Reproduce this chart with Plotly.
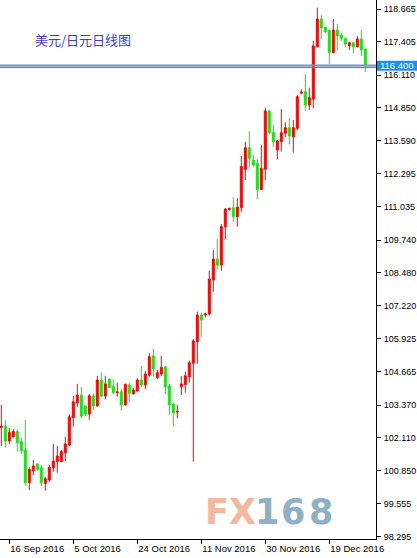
import plotly.graph_objects as go

# ---------------- data (USD/JPY daily) ----------------
opens = [102.51, 102.56, 101.99, 102.15, 102.35, 101.96, 101.64, 100.38, 100.84, 101.10,
         100.95, 100.35, 100.48, 100.95, 101.19, 101.19, 101.53, 101.83, 102.89, 103.46,
         103.76, 103.34, 103.03, 103.72, 103.34, 104.34, 103.72, 104.38, 104.08, 103.85,
         103.89, 103.38, 104.15, 103.80, 103.92, 104.34, 104.15, 104.53, 105.27, 104.43,
         104.57, 104.85, 104.11, 103.41, 103.10, 104.08, 104.17, 104.47, 104.99, 105.82,
         106.85, 106.85, 106.89, 108.20, 109.01, 108.78, 110.26, 110.92, 110.99, 110.65,
         110.99, 112.48, 113.31, 112.83, 112.71, 111.70, 112.48, 114.73, 113.90, 113.22,
         113.54, 113.87, 114.08, 113.73, 114.06, 115.42, 115.47, 114.96, 115.19, 117.21,
         118.28, 117.96, 117.83, 116.99, 117.85, 117.66, 117.53, 117.25, 117.36, 117.21,
         117.51, 117.12]
highs = [103.38, 102.80, 102.48, 102.44, 102.44, 102.11, 102.80, 100.97, 101.25, 101.12,
         101.06, 100.61, 101.06, 101.87, 101.79, 101.64, 102.15, 103.02, 103.72, 104.19,
         104.06, 103.35, 103.80, 103.83, 104.50, 104.64, 104.50, 104.39, 104.37, 104.24,
         103.98, 104.21, 104.24, 104.04, 104.41, 104.88, 104.70, 105.37, 105.54, 104.73,
         105.27, 104.87, 104.19, 103.46, 103.38, 104.50, 104.66, 105.09, 105.92, 106.98,
         106.95, 106.94, 108.56, 109.36, 109.78, 110.36, 110.97, 111.00, 111.39, 111.36,
         112.99, 113.54, 113.93, 113.03, 112.86, 113.41, 114.85, 114.75, 114.19, 113.61,
         114.80, 114.29, 114.44, 114.38, 115.34, 115.56, 116.16, 115.63, 117.43, 118.72,
         118.43, 117.97, 117.88, 118.28, 118.09, 117.75, 117.57, 117.40, 117.37, 117.62,
         117.85, 117.13]
lows = [101.79, 101.73, 101.87, 102.13, 101.57, 101.48, 100.25, 100.09, 100.67, 100.84,
        100.25, 100.07, 100.41, 100.80, 100.76, 101.17, 101.21, 101.80, 102.54, 103.31,
        102.86, 102.95, 102.80, 103.18, 103.31, 103.67, 103.61, 104.03, 103.80, 103.70,
        103.16, 103.36, 103.50, 103.79, 103.89, 104.06, 103.99, 104.47, 104.47, 104.38,
        104.50, 103.80, 102.99, 102.54, 102.86, 103.76, 103.85, 104.24, 101.19, 104.96,
        106.01, 106.76, 106.84, 107.75, 108.61, 108.56, 109.78, 110.88, 110.45, 110.26,
        110.84, 112.06, 112.54, 112.58, 111.32, 111.68, 112.06, 113.83, 113.35, 112.87,
        113.16, 113.71, 113.44, 113.12, 113.99, 115.37, 114.73, 114.77, 114.83, 117.19,
        117.50, 117.73, 116.54, 116.95, 117.08, 117.44, 117.19, 117.08, 116.95, 117.19,
        116.85, 116.24]
closes = [102.55, 101.99, 102.31, 102.35, 101.92, 101.61, 100.38, 100.89, 101.02, 100.89,
          100.38, 100.53, 100.97, 101.21, 101.41, 101.57, 101.87, 102.92, 103.50, 103.76,
          102.95, 103.03, 103.73, 103.34, 104.34, 103.72, 104.19, 104.04, 103.85, 103.88,
          103.38, 104.17, 103.83, 103.95, 104.34, 104.15, 104.57, 105.24, 104.77, 104.62,
          104.83, 104.08, 103.38, 103.08, 103.13, 104.19, 104.50, 105.01, 105.85, 106.85,
          106.66, 106.89, 108.24, 109.01, 108.78, 110.26, 110.94, 110.96, 110.65, 111.01,
          112.58, 113.31, 112.90, 112.64, 111.70, 112.51, 114.73, 113.89, 113.54, 113.57,
          113.89, 114.08, 113.76, 114.08, 115.28, 115.45, 114.96, 115.24, 117.24, 118.28,
          117.94, 117.79, 116.99, 117.85, 117.62, 117.53, 117.31, 117.36, 117.21, 117.51,
          117.08, 116.49]

x_tick_idx = [2, 18, 34, 50, 66, 82]
x_tick_labels = ["16 Sep 2016", "5 Oct 2016", "24 Oct 2016",
                 "11 Nov 2016", "30 Nov 2016", "19 Dec 2016"]
y_tick_vals = [118.665, 117.405, 116.110, 114.850, 113.590, 112.295, 111.035,
               109.740, 108.480, 107.220, 105.925, 104.665, 103.370, 102.110,
               100.850, 99.555, 98.295]

ask_line = 116.49
bid_line = 116.42
last_price_label = "116.400"
title_text = "美元/日元日线图"
watermark_parts = ["FX", "1", "6", "8"]

RED = "#ff0000"
GREEN = "#14e414"

# ---------------- figure ----------------
idx = list(range(len(opens)))
fig = go.Figure(go.Candlestick(
    x=idx, open=opens, high=highs, low=lows, close=closes,
    increasing=dict(line=dict(color=RED, width=1), fillcolor=RED),
    decreasing=dict(line=dict(color=GREEN, width=1), fillcolor=GREEN),
    whiskerwidth=0, showlegend=False, hoverinfo="skip",
))

W, H = 417, 558
ML, MR, MT, MB = 0, 41, 0, 19
PW, PH = W - ML - MR, H - MT - MB

axis_font = dict(family="Liberation Sans, Arial, sans-serif", size=9, color="#000000")

fig.update_layout(
    width=W, height=H,
    margin=dict(l=ML, r=MR, t=MT, b=MB, pad=0),
    paper_bgcolor="white", plot_bgcolor="white",
    showlegend=False,
    xaxis=dict(
        range=[-0.325, 93.675], rangeslider=dict(visible=False),
        showgrid=False, zeroline=False, showline=True, linecolor="#000000", linewidth=1,
        ticks="outside", ticklen=4, tickcolor="#000000", tickwidth=1,
        tickvals=x_tick_idx, ticktext=x_tick_labels,
        ticklabelposition="outside right", tickfont=dict(axis_font, size=9.5),
        ticklabelstandoff=1,
    ),
    yaxis=dict(
        side="right", range=[98.2015, 119.0125],
        showgrid=False, zeroline=False, showline=True, linecolor="#000000", linewidth=1,
        ticks="outside", ticklen=4, tickcolor="#000000", tickwidth=1,
        tickvals=y_tick_vals, ticktext=[f"{v:.3f}" for v in y_tick_vals],
        tickfont=axis_font, ticklabelstandoff=1,
    ),
)

# price lines
fig.add_shape(type="line", xref="paper", yref="y", x0=0, x1=1, y0=ask_line, y1=ask_line,
              line=dict(color="#8593a6", width=1.5), layer="above")
fig.add_shape(type="line", xref="paper", yref="y", x0=0, x1=1, y0=bid_line, y1=bid_line,
              line=dict(color="#3a8be4", width=1.5), layer="above")

# last price box on the axis
box_mid = (ask_line + bid_line) / 2
fig.add_shape(type="rect", xref="paper", yref="y",
              x0=1 + 1 / PW, x1=1 + MR / PW, y0=box_mid - 0.17, y1=box_mid + 0.21,
              fillcolor="#1e8ff5", line=dict(width=0), layer="above")
fig.add_annotation(xref="paper", yref="y", x=1 + 2 / PW, y=box_mid + 0.02, xanchor="left",
                   yanchor="middle", text=last_price_label, showarrow=False,
                   font=dict(family="Liberation Sans, Arial, sans-serif", size=9.5,
                             color="white"))

# chart title
fig.add_annotation(xref="paper", yref="paper", x=33 / PW, y=1 - 39 / PH, xanchor="left",
                   yanchor="middle", text=title_text, showarrow=False,
                   font=dict(family="Noto Sans CJK SC", size=13, color="#3c3cd2"))

# watermark
wm_x = [230, 267, 293, 321]
wm_col = ["#f5b89c", "#8fb0c5", "#8fb0c5", "#8fb0c5"]
for part, xp, col in zip(watermark_parts, wm_x, wm_col):
    fig.add_annotation(xref="paper", yref="paper", x=xp / PW, y=1 - 512 / PH,
                       xanchor="center", yanchor="middle", text=f"<b>{part}</b>",
                       showarrow=False,
                       font=dict(family="DejaVu Sans", size=35, color=col))

fig.write_html(
    "out.html",
    config={"displayModeBar": False, "staticPlot": True},
    post_script="document.body.style.margin='0';document.body.style.padding='0';"
                "document.body.style.overflow='hidden';",
)
